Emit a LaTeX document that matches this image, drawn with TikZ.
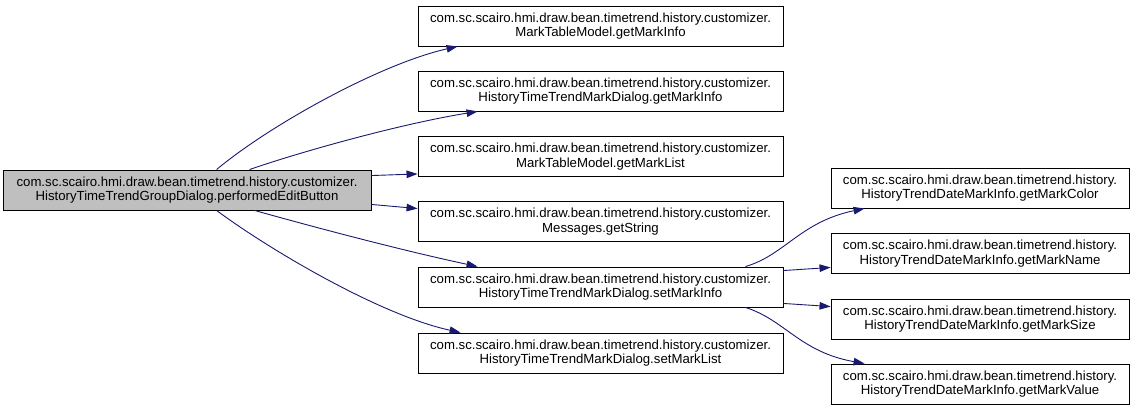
\documentclass[tikz,border=0pt]{standalone}
\usepackage{fontspec}
\setmainfont{Liberation Sans}
\usetikzlibrary{arrows.meta}
\definecolor{edgecol}{HTML}{191970}
\definecolor{graybox}{HTML}{BFBFBF}
\begin{document}
\begin{tikzpicture}[x=1pt,y=-1pt,
  box/.style={draw=black, line width=0.9pt, fill=white, inner sep=0pt, align=center,
    minimum height=40pt, font=\fontsize{13.2}{14.3}\selectfont},
  midbox/.style={box, minimum width=365pt},
  rightbox/.style={box, minimum width=298pt},
  edge/.style={draw=edgecol, line width=0.9pt, -{Triangle[length=11pt,width=7.5pt]}}]
\useasboundingbox (0,0) rectangle (1135,411);
\node[box, fill=graybox, minimum width=368pt] (L) at (187,190)
  {com.sc.scairo.hmi.draw.bean.timetrend.history.customizer.\\HistoryTimeTrendGroupDialog.performedEditButton};
\node[midbox] (N1) at (600.5,26) {com.sc.scairo.hmi.draw.bean.timetrend.history.customizer.\\MarkTableModel.getMarkInfo};
\node[midbox] (N2) at (600.5,91) {com.sc.scairo.hmi.draw.bean.timetrend.history.customizer.\\HistoryTimeTrendMarkDialog.getMarkInfo};
\node[midbox] (N3) at (600.5,156.5) {com.sc.scairo.hmi.draw.bean.timetrend.history.customizer.\\MarkTableModel.getMarkList};
\node[midbox] (N4) at (600.5,221.5) {com.sc.scairo.hmi.draw.bean.timetrend.history.customizer.\\Messages.getString};
\node[midbox] (N5) at (600.5,287) {com.sc.scairo.hmi.draw.bean.timetrend.history.customizer.\\HistoryTimeTrendMarkDialog.setMarkInfo};
\node[midbox] (N6) at (600.5,353) {com.sc.scairo.hmi.draw.bean.timetrend.history.customizer.\\HistoryTimeTrendMarkDialog.setMarkList};
\node[rightbox] (R1) at (980,188) {com.sc.scairo.hmi.draw.bean.timetrend.history.\\HistoryTrendDateMarkInfo.getMarkColor};
\node[rightbox] (R2) at (980,253.5) {com.sc.scairo.hmi.draw.bean.timetrend.history.\\HistoryTrendDateMarkInfo.getMarkName};
\node[rightbox] (R3) at (980,319) {com.sc.scairo.hmi.draw.bean.timetrend.history.\\HistoryTrendDateMarkInfo.getMarkSize};
\node[rightbox] (R4) at (980,384) {com.sc.scairo.hmi.draw.bean.timetrend.history.\\HistoryTrendDateMarkInfo.getMarkValue};
% edges from L
\draw[edge] ([xshift=214pt]L.north west) .. controls (270,125) and (380,64) .. ([xshift=40pt]N1.south west);
\draw[edge] ([xshift=247pt]L.north west) .. controls (300,152) and (400,124) .. ([xshift=60pt]N2.south west);
\draw[edge] ([yshift=-6pt]L.north east) -- ([yshift=3pt]N3.south west);
\draw[edge] ([yshift=6pt]L.south east) -- ([yshift=-7.5pt]N4.north west);
\draw[edge] ([xshift=252pt]L.south west) .. controls (310,226) and (400,250) .. ([xshift=60pt]N5.north west);
\draw[edge] ([xshift=214pt]L.south west) .. controls (270,250) and (380,315) .. ([xshift=43pt]N6.north west);
% edges from N5
\draw[edge] ([xshift=-38pt]N5.north east) .. controls (785,255) and (800,222) .. ([xshift=34pt]R1.south west);
\draw[edge] ([yshift=-4pt]N5.north east) -- ([yshift=6.5pt]R2.south west);
\draw[edge] ([yshift=4pt]N5.south east) -- ([yshift=-8pt]R3.north west);
\draw[edge] ([xshift=-38pt]N5.south east) .. controls (785,320) and (800,352) .. ([xshift=34pt]R4.north west);
\end{tikzpicture}
\end{document}
